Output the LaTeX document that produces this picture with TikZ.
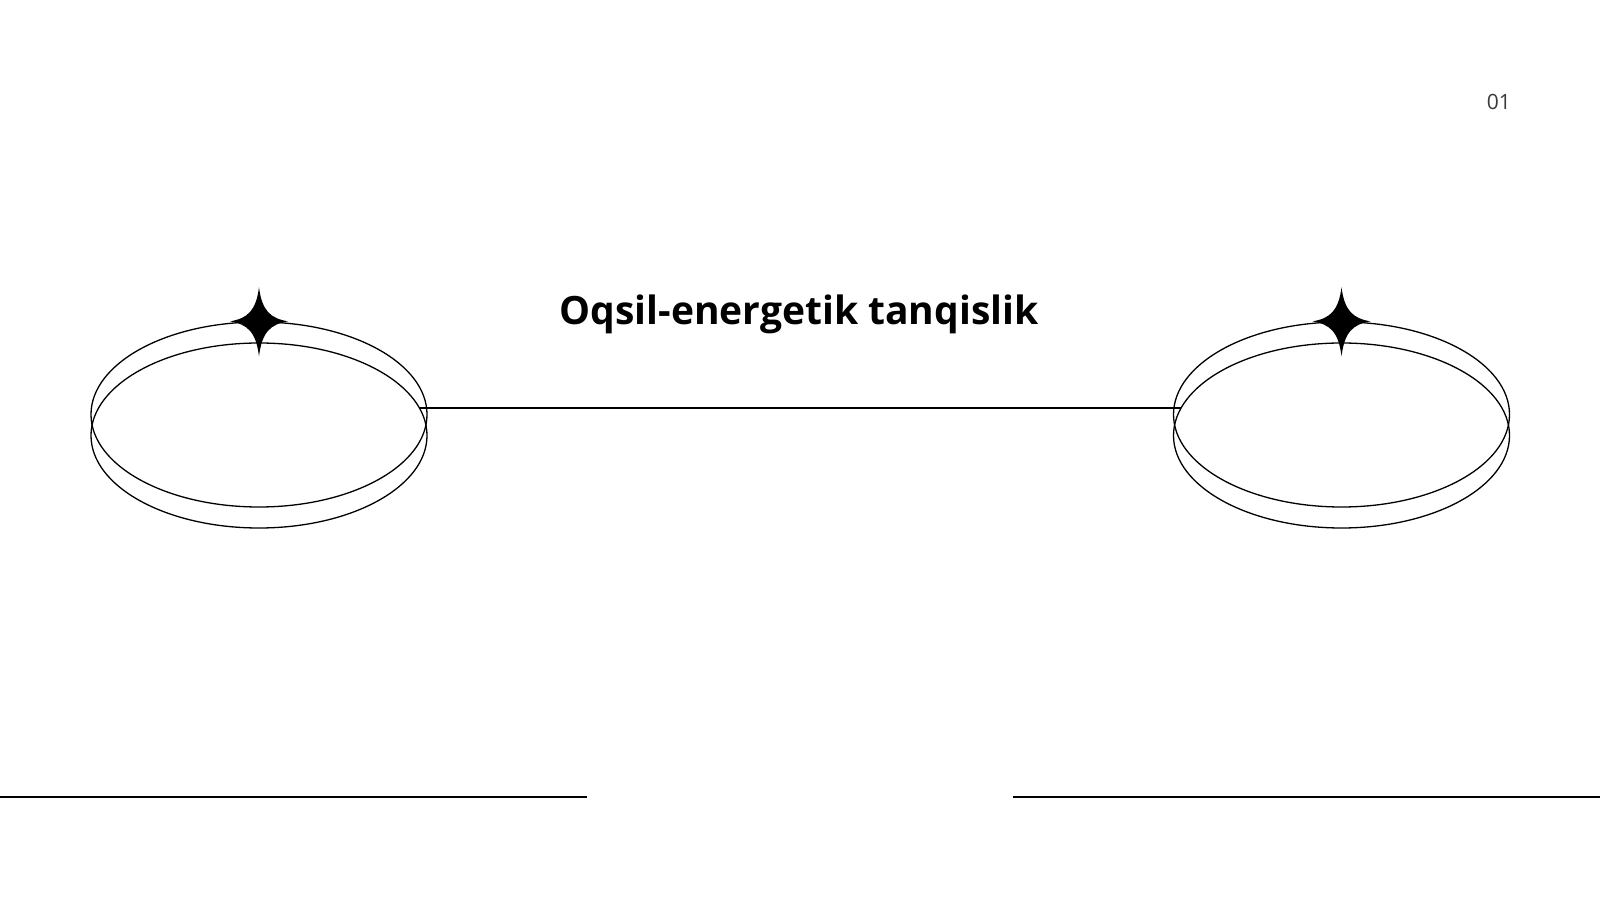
\documentclass[tikz,border=0pt]{standalone}
\usepackage{fontspec}
\setmainfont{Open Sans}
\usetikzlibrary{shapes.geometric,calc}
\definecolor{pagegray}{HTML}{3A3A3A}
\tikzset{
  ring/.style={ellipse, draw=black, line width=1.3pt, minimum width=336pt, minimum height=185pt, inner sep=0pt},
  link/.style={draw=black, line width=1.6pt},
  baseline rule/.style={draw=black, line width=2pt},
  sparkle/.style={fill=black, draw=none}
}
\newcommand{\sparkleat}[1]{%
  \fill[sparkle] ($(#1)+(0,34)$) .. controls ($(#1)+(3,11)$) and ($(#1)+(11,3)$) .. ($(#1)+(29,0)$)
     .. controls ($(#1)+(11,-3)$) and ($(#1)+(3,-11)$) .. ($(#1)+(0,-35)$)
     .. controls ($(#1)+(-3,-11)$) and ($(#1)+(-11,-3)$) .. ($(#1)+(-29,0)$)
     .. controls ($(#1)+(-11,3)$) and ($(#1)+(-3,11)$) .. cycle;}
\begin{document}
\begin{tikzpicture}[x=1pt,y=1pt]
\useasboundingbox (0,0) rectangle (1600,900);
% rings
\node[ring] (L1) at (259,485.5) {};
\node[ring] (L2) at (259,464.5) {};
\node[ring] (R1) at (1341.5,485.5) {};
\node[ring] (R2) at (1341.5,464.5) {};
% connector ends on the lower rings
\coordinate (cl) at ($(L2.center)+(160.4,27.5)$);
\coordinate (cr) at ($(R2.center)+(-160.4,27.5)$);
\draw[link] (cl) -- (cr);
% sparkles
\coordinate (SL) at (L1.north);
\coordinate (SR) at (R1.north);
\sparkleat{SL}
\sparkleat{SR}
% title
\node[anchor=base, inner sep=0pt, font=\fontsize{39}{47}\selectfont\bfseries] (title) at (799,575) {Oqsil-energetik tanqislik};
% page number
\node[anchor=base east, inner sep=0pt, text=pagegray, font=\fontsize{21}{25}\selectfont] (page) at (1511,790) {01};
% bottom rules
\coordinate (bl1) at (0,103);
\coordinate (bl2) at (587,103);
\coordinate (br1) at (1013,103);
\coordinate (br2) at (1600,103);
\draw[baseline rule] (bl1) -- (bl2);
\draw[baseline rule] (br1) -- (br2);
\end{tikzpicture}
\end{document}
